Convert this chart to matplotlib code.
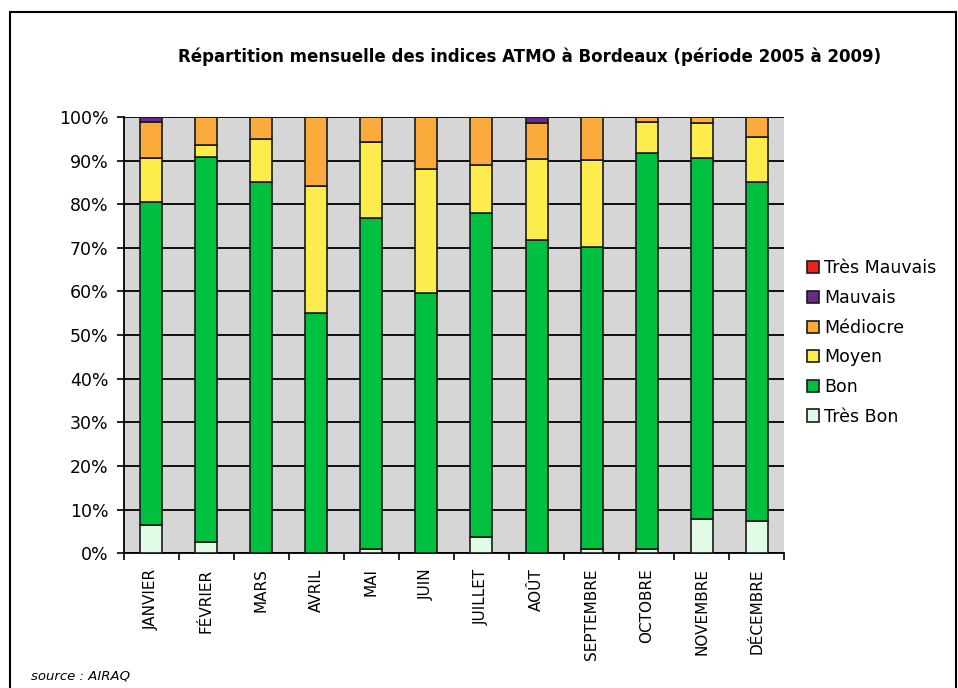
import numpy as np
import matplotlib.pyplot as plt
from matplotlib.patches import Rectangle

months = ["JANVIER", "FÉVRIER", "MARS", "AVRIL", "MAI", "JUIN",
          "JUILLET", "AOÛT", "SEPTEMBRE", "OCTOBRE", "NOVEMBRE", "DÉCEMBRE"]

# % of days per index class
tres_bon = [6.4, 2.6, 0.0, 0.0, 1.0, 0.0, 3.6, 0.0, 1.0, 1.0, 7.8, 7.4]
bon = [74.2, 88.2, 85.2, 55.0, 75.8, 59.6, 74.4, 71.8, 69.2, 90.7, 82.9, 77.8]
moyen = [9.9, 2.8, 9.8, 29.2, 17.5, 28.5, 11.0, 18.6, 19.9, 7.1, 7.9, 10.3]
mediocre = [8.4, 6.4, 5.0, 15.8, 5.7, 11.9, 11.0, 8.3, 9.9, 1.2, 1.4, 4.5]
mauvais = [1.1, 0.0, 0.0, 0.0, 0.0, 0.0, 0.0, 1.3, 0.0, 0.0, 0.0, 0.0]
tres_mauvais = [0.0] * 12

series = [
    ("Très Bon", tres_bon, "#e2fbe4"),
    ("Bon", bon, "#00c040"),
    ("Moyen", moyen, "#fcec4c"),
    ("Médiocre", mediocre, "#fbab3c"),
    ("Mauvais", mauvais, "#6b2a86"),
    ("Très Mauvais", tres_mauvais, "#f02020"),
]

fig = plt.figure(figsize=(9.58, 6.88), dpi=100)
fig.patch.set_facecolor("white")
ax = fig.add_axes([0.1294, 0.196, 0.689, 0.634])
ax.set_facecolor("#d6d6d6")

x = np.arange(len(months))
bottom = np.zeros(len(months))
handles = []
for name, vals, col in series:
    vals = np.array(vals)
    b = ax.bar(x, vals, width=0.4, bottom=bottom, color=col,
               edgecolor="#1a1a1a", linewidth=1.2, label=name, zorder=3)
    handles.append(b)
    bottom += vals

ax.set_xlim(-0.5, len(months) - 0.5)
ax.set_ylim(0, 100)
ax.set_yticks(np.arange(0, 101, 10))
ax.set_yticklabels([f"{v}%" for v in range(0, 101, 10)], fontsize=12.5)
ax.yaxis.grid(True, color="black", linewidth=1.3, zorder=1)
ax.set_axisbelow(True)

ax.set_xticks(x)
ax.set_xticklabels(months, rotation=90, fontsize=11)
ax.tick_params(axis="x", length=0, pad=11)
ax.set_xticks(np.arange(-0.5, len(months), 1), minor=True)
ax.tick_params(axis="x", which="minor", length=5, width=1.2, direction="out")
ax.tick_params(axis="y", length=5, width=1.2, direction="out", pad=6)

for s in ["top", "right"]:
    ax.spines[s].set_visible(False)
ax.spines["left"].set_linewidth(1.3)
ax.spines["bottom"].set_linewidth(1.3)

leg = fig.legend(handles[::-1], [s[0] for s in series][::-1],
                 loc="upper left", bbox_to_anchor=(0.835, 0.633),
                 frameon=False, fontsize=12.5, handlelength=0.7,
                 handleheight=0.7, handletextpad=0.3, labelspacing=0.67,
                 borderaxespad=0)

fig.text(0.553, 0.917, "Répartition mensuelle des indices ATMO à Bordeaux (période 2005 à 2009)",
         ha="center", va="center", fontsize=12, fontweight="bold")
fig.text(0.032, 0.018, "source : AIRAQ", ha="left", va="center",
         fontsize=9.5, style="italic")

# outer frame
fig.patches.append(Rectangle((10 / 958, -0.05), 946 / 958, (688 - 12) / 688 + 0.05,
                             transform=fig.transFigure, fill=False,
                             edgecolor="black", linewidth=1.5))

fig.savefig("out.png", dpi=100)
